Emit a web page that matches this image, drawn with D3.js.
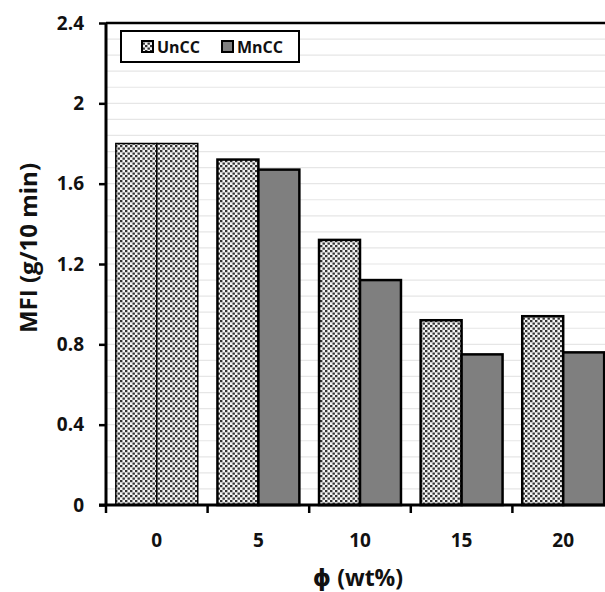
<!DOCTYPE html>
<html><head><meta charset="utf-8">
<script src="https://cdn.jsdelivr.net/npm/d3@7"></script>
<style>body{margin:0;background:#fff}svg{display:block}</style>
</head><body>
<script>
const categories = ["0","5","10","15","20"];
const seriesNames = ["UnCC","MnCC"];
const uncc = [1.80,1.72,1.32,0.92,0.94];
const mncc = [1.80,1.67,1.12,0.75,0.76];
const yTicks = [0,0.4,0.8,1.2,1.6,2,2.4];
const yTickLabels = ["0","0.4","0.8","1.2","1.6","2","2.4"];

(function(){
const W=605,H=592;
const svg=d3.select("body").append("svg").attr("width",W).attr("height",H);
const font="'Open Sans', 'DejaVu Sans', sans-serif";
const defs=svg.append("defs");
const pat=defs.append("pattern").attr("id","dots").attr("patternUnits","userSpaceOnUse")
  .attr("width",5).attr("height",5);
pat.append("rect").attr("width",5).attr("height",5).attr("fill","#f4f4f4");
pat.append("rect").attr("x",0).attr("y",0).attr("width",2.4).attr("height",2.2).attr("fill","#333");
pat.append("rect").attr("x",2.5).attr("y",2.5).attr("width",2.4).attr("height",2.2).attr("fill","#333");

const pL=106, pT=23, pB=505;
const x=d3.scaleBand().domain(categories).range([pL,pL+5*101.6]).paddingInner(0).paddingOuter(0);
const xs=d3.scaleBand().domain(seriesNames).range([0,x.bandwidth()]).paddingInner(0).paddingOuter(0.24);
const y=d3.scaleLinear().domain([0,2.4]).range([pB,pT]);

const grid=d3.range(1,30).map(i=>i*0.08);
svg.append("g").selectAll("line").data(grid).join("line")
  .attr("x1",pL).attr("x2",W).attr("y1",d=>y(d)).attr("y2",d=>y(d))
  .attr("stroke","#e6e6e6").attr("stroke-width",1.2);

const data=categories.map((c,i)=>({c,vals:[{s:"UnCC",v:uncc[i]},{s:"MnCC",v:mncc[i]}]}));
const g=svg.append("g");
data.forEach(d=>{
  g.selectAll(null).data(d.vals).join("rect")
   .attr("x",e=>x(d.c)+xs(e.s)).attr("width",xs.bandwidth())
   .attr("y",e=>y(e.v)).attr("height",e=>y(0)-y(e.v))
   .attr("fill",e=>(e.s==="UnCC"||d.c==="0")?"url(#dots)":"#7f7f7f")
   .attr("stroke","#000").attr("stroke-width",d.c==="0"?1.5:2.5);
});

svg.append("line").attr("x1",pL).attr("x2",W).attr("y1",pT).attr("y2",pT).attr("stroke","#000").attr("stroke-width",2.5);

const ya=svg.append("g").attr("transform",`translate(${pL},0)`)
  .call(d3.axisLeft(y).tickValues(yTicks).tickFormat((d,i)=>yTickLabels[i]).tickSize(7).tickPadding(15));
ya.select(".domain").attr("stroke-width",3).attr("d",`M0,${pT}V${pB}`);
ya.selectAll(".tick line").attr("stroke-width",2.5);
ya.selectAll("text").attr("font-family",font).attr("font-weight","bold").attr("font-size",19).attr("fill","#111");

const xa=svg.append("g").attr("transform",`translate(0,${pB})`)
  .call(d3.axisBottom(x).tickSize(0).tickPadding(0));
xa.select(".domain").attr("stroke-width",3).attr("d",`M${pL-7},0H${W}`);
xa.selectAll(".tick line").remove();
xa.selectAll("text").attr("dy",0).attr("y",42).attr("font-family",font).attr("font-weight","bold").attr("font-size",19).attr("fill","#111");
const bounds=categories.map(c=>x(c));
svg.append("g").selectAll("line").data(bounds).join("line")
  .attr("x1",d=>d).attr("x2",d=>d).attr("y1",pB).attr("y2",pB+8)
  .attr("stroke","#000").attr("stroke-width",2.5);

svg.append("text").attr("transform","translate(37,248) rotate(-90)").attr("text-anchor","middle")
  .attr("font-family",font).attr("font-weight","bold").attr("font-size",24).attr("fill","#111").text("MFI (g/10 min)");
svg.append("text").attr("x",358).attr("y",586).attr("text-anchor","middle")
  .attr("font-family",font).attr("font-weight","bold").attr("font-size",23).attr("fill","#111").text("ϕ (wt%)");

const lg=svg.append("g");
lg.append("rect").attr("x",121).attr("y",31).attr("width",178).attr("height",31).attr("fill","#fff").attr("stroke","#000").attr("stroke-width",2);
const lx=[142,222];
seriesNames.forEach((s,i)=>{
  lg.append("rect").attr("x",lx[i]).attr("y",41).attr("width",11).attr("height",11)
    .attr("fill",i===0?"url(#dots)":"#7f7f7f").attr("stroke","#000").attr("stroke-width",2);
  lg.append("text").attr("x",lx[i]+15).attr("y",53).attr("font-family",font).attr("font-weight","bold")
    .attr("font-size",16).attr("fill","#111").text(s);
});
})();
</script>
</body></html>
